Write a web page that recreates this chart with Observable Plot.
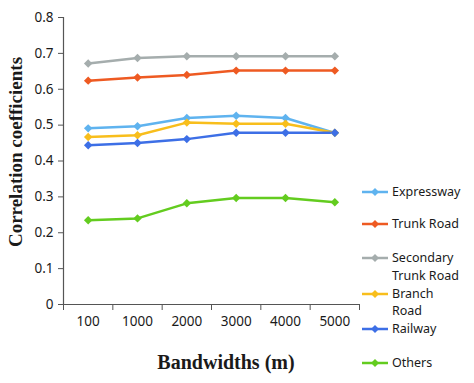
<!DOCTYPE html>
<html>
<head>
<meta charset="utf-8">
<script src="https://cdn.jsdelivr.net/npm/d3@7"></script>
<script src="https://cdn.jsdelivr.net/npm/@observablehq/plot@0.6"></script>
<style>
  body { margin: 0; background: #fff; }
  #wrap { position: relative; width: 474px; height: 383px; overflow: hidden; background: #fff; }
  .ttl { position: absolute; white-space: nowrap; font-family: "Liberation Serif", "Times New Roman", serif; font-weight: bold; color: #1a1a1a; }
  .leg { position: absolute; font-family: "Noto Sans", sans-serif; font-size: 12.5px; color: #1a1a1a; white-space: nowrap; line-height: 14px; height: 14px; }
  .sw { position: absolute; }
</style>
</head>
<body>
<div id="wrap"></div>
<script>
// ---- data ----
const categories = ["100", "1000", "2000", "3000", "4000", "5000"];
const seriesNames = ["Expressway", "Trunk Road", "Secondary Trunk Road", "Branch Road", "Railway", "Others"];
const expressway = [0.491, 0.497, 0.520, 0.526, 0.520, 0.478];
const trunkRoad  = [0.624, 0.633, 0.640, 0.652, 0.652, 0.652];
const secondary  = [0.672, 0.687, 0.692, 0.692, 0.692, 0.692];
const branchRoad = [0.467, 0.472, 0.507, 0.504, 0.504, 0.479];
const railway    = [0.444, 0.450, 0.461, 0.479, 0.479, 0.479];
const others     = [0.235, 0.240, 0.282, 0.297, 0.297, 0.285];
const yTicks = [0, 0.1, 0.2, 0.3, 0.4, 0.5, 0.6, 0.7, 0.8];

// ---- styles ----
const colors = ["#5fb3ef", "#ee5a22", "#a5adad", "#f8be1c", "#3d6fe6", "#63cc1f"];

const seriesValues = [expressway, trunkRoad, secondary, branchRoad, railway, others];
const data = [];
seriesNames.forEach((s, si) => {
  seriesValues[si].forEach((v, i) => data.push({series: s, xi: i + 0.5, value: v}));
});

const chart = Plot.plot({
  width: 474,
  height: 383,
  marginLeft: 63,
  marginRight: 115,
  marginTop: 17,
  marginBottom: 79,
  x: {type: "linear", domain: [0, categories.length], axis: null, label: null},
  y: {domain: [0, 0.8], axis: null, label: null},
  color: {domain: seriesNames, range: colors},
  style: {fontFamily: "Noto Sans, sans-serif", fontSize: "13px", color: "#1a1a1a", background: "transparent"},
  marks: [
    Plot.axisY(yTicks, {tickSize: 5, tickPadding: 5, stroke: "#555", strokeOpacity: 1, fontSize: 13.5, label: null,
      tickFormat: d => d === 0 ? "0" : d.toFixed(1)}),
    Plot.axisX(d3.range(0, categories.length + 1), {tickSize: 6, tickFormat: () => "", stroke: "#555", strokeOpacity: 1, label: null}),
    Plot.axisX(categories.map((c, i) => i + 0.5), {tickSize: 0, tickPadding: 12, fontSize: 13.5, label: null,
      tickFormat: d => categories[Math.floor(d)]}),
    Plot.ruleX([0], {y1: 0, y2: 0.8, stroke: "#555", strokeWidth: 1.2}),
    Plot.ruleY([0], {stroke: "#555", strokeWidth: 1.2}),
    Plot.line(data, {x: "xi", y: "value", z: "series", stroke: "series", strokeWidth: 2.5}),
    Plot.dot(data, {x: "xi", y: "value", fill: "series", symbol: "diamond2", r: 3.8})
  ]
});

const wrap = document.getElementById("wrap");
chart.style.position = "absolute";
chart.style.left = "0px";
chart.style.top = "0px";
wrap.appendChild(chart);

// ---- titles ----
const yt = document.createElement("div");
yt.className = "ttl";
yt.textContent = "Correlation coefficients";
yt.style.fontSize = "19px";
yt.style.left = "16px";
yt.style.top = "152px";
yt.style.transform = "translate(-50%, -50%) rotate(-90deg)";
wrap.appendChild(yt);

const xt = document.createElement("div");
xt.className = "ttl";
xt.textContent = "Bandwidths (m)";
xt.style.fontSize = "20px";
xt.style.left = "226px";
xt.style.top = "362px";
xt.style.transform = "translate(-50%, -50%)";
wrap.appendChild(xt);

// ---- legend (Excel-like wrapped labels) ----
const legendLayout = [
  {series: 0, lines: [["Expressway", 192]], marker: 192},
  {series: 1, lines: [["Trunk Road", 224]], marker: 224},
  {series: 2, lines: [["Secondary", 258], ["Trunk Road", 276]], marker: 258},
  {series: 3, lines: [["Branch", 294], ["Road", 311]], marker: 294},
  {series: 4, lines: [["Railway", 329]], marker: 329},
  {series: 5, lines: [["Others", 363]], marker: 363}
];
legendLayout.forEach(e => {
  const c = colors[e.series];
  const sw = document.createElementNS("http://www.w3.org/2000/svg", "svg");
  sw.setAttribute("width", 28);
  sw.setAttribute("height", 12);
  sw.setAttribute("class", "sw");
  sw.style.left = "361px";
  sw.style.top = (e.marker - 6) + "px";
  sw.innerHTML = `<line x1="1" y1="6" x2="27" y2="6" stroke="${c}" stroke-width="2.5"/>` +
    `<path d="M14,2 L18,6 L14,10 L10,6 Z" fill="${c}"/>`;
  wrap.appendChild(sw);
  e.lines.forEach(([t, y]) => {
    const d = document.createElement("div");
    d.className = "leg";
    d.textContent = t;
    d.style.left = "392px";
    d.style.top = (y - 7) + "px";
    wrap.appendChild(d);
  });
});
</script>
</body>
</html>
